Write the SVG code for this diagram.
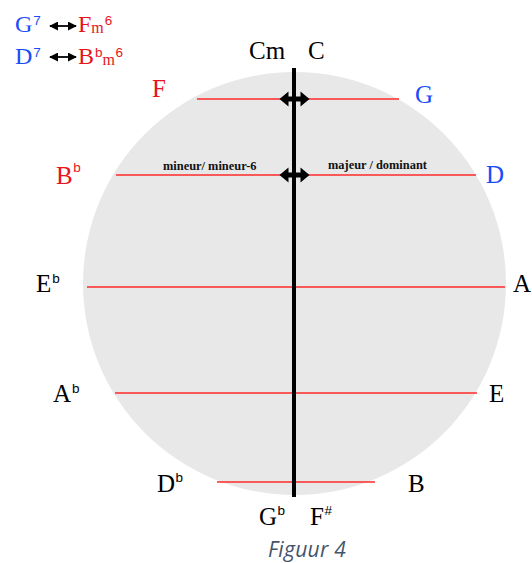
<svg xmlns="http://www.w3.org/2000/svg" width="532" height="563" viewBox="0 0 532 563">
<style>
.n{font-family:"Liberation Serif",serif;font-size:25px;fill:#000}
.lg{font-size:24px}
.r{fill:#E8141B}
.b{fill:#1A4CF8}
.s{font-family:"Liberation Sans",sans-serif;font-size:13.5px}
.sm{font-family:"Liberation Serif",serif;font-size:16px}
.lbl{font-family:"Liberation Serif",serif;font-size:12.4px;font-weight:bold;fill:#111}
.ln{stroke:#FF2A2A;stroke-width:1.5;fill:none}
.cap{font-family:"Open Sans",sans-serif;font-style:italic;font-size:21px;fill:#44546A}
</style>
<defs>
<marker id="ah" viewBox="0 0 10 10" refX="9" refY="5" markerWidth="5" markerHeight="5" orient="auto-start-reverse"><path d="M0,0L10,5L0,10z" fill="#000"/></marker>
<path id="dbl" d="M0,0l9,-7.5v5h12v-5l9,7.5l-9,7.5v-5h-12v5z" fill="#000"/>
</defs>
<g id="circle"><circle cx="294.5" cy="283.5" r="211.5" fill="#E8E8E8"/></g>
<g id="connectors">
<line class="ln" x1="197" y1="99" x2="399" y2="99"/>
<line class="ln" x1="116" y1="175" x2="476" y2="175"/>
<line class="ln" x1="87" y1="287" x2="505" y2="287"/>
<line class="ln" x1="115" y1="393" x2="477" y2="393"/>
<line class="ln" x1="217" y1="482" x2="375" y2="482"/>
<line x1="294" y1="68" x2="294" y2="497" stroke="#000" stroke-width="4"/>
<use href="#dbl" x="279.5" y="99"/>
<use href="#dbl" x="279.5" y="175"/>
<line x1="50" y1="26" x2="76" y2="26" stroke="#000" stroke-width="1.8" marker-start="url(#ah)" marker-end="url(#ah)"/>
<line x1="50" y1="57" x2="76" y2="57" stroke="#000" stroke-width="1.8" marker-start="url(#ah)" marker-end="url(#ah)"/>
</g>
<g id="legend">
<text class="n lg b" x="15" y="32">G<tspan class="s" dy="-7" dx="1">7</tspan></text>
<text class="n lg r" x="78" y="32">F<tspan class="sm" dy="1">m</tspan><tspan class="s" dy="-8" dx="1">6</tspan></text>
<text class="n lg b" x="15" y="64">D<tspan class="s" dy="-7" dx="1">7</tspan></text>
<text class="n lg r" x="78" y="64">B<tspan class="s" dy="-7" dx="1">b</tspan><tspan class="sm" dy="8">m</tspan><tspan class="s" dy="-8" dx="0.5">6</tspan></text>
</g>
<g id="top"><text class="n" x="249" y="59">Cm</text><text class="n" x="308" y="59">C</text></g>
<g id="F"><text class="n r" x="152" y="97">F</text></g>
<g id="G"><text class="n b" x="415" y="103">G</text></g>
<g id="Bb"><text class="n r" x="56" y="184">B<tspan class="s" dy="-12" dx="0.5">b</tspan></text></g>
<g id="D"><text class="n b" x="486" y="183">D</text></g>
<g id="labels">
<text class="lbl" x="163" y="170">mineur/ mineur-6</text>
<text class="lbl" x="328" y="169">majeur / dominant</text>
</g>
<g id="Eb"><text class="n" x="36" y="292">E<tspan class="s" dy="-9" dx="1">b</tspan></text></g>
<g id="A"><text class="n" x="513" y="292">A</text></g>
<g id="Ab"><text class="n" x="53" y="402">A<tspan class="s" dy="-9" dx="1">b</tspan></text></g>
<g id="E"><text class="n" x="489" y="402">E</text></g>
<g id="Db"><text class="n" x="157" y="492">D<tspan class="s" dy="-10" dx="0.5">b</tspan></text></g>
<g id="B"><text class="n" x="408" y="492">B</text></g>
<g id="bottom"><text class="n" x="259" y="525">G<tspan class="s" dy="-10" dx="0.5">b</tspan></text><text class="n" x="310" y="525">F<tspan class="s" dy="-10" dx="0.5">#</tspan></text></g>
<text class="cap" x="268" y="557" letter-spacing="0.3">Figuur 4</text>
</svg>
